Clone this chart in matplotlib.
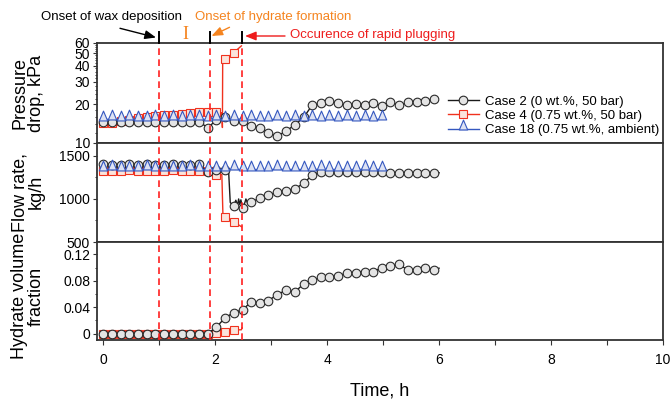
import matplotlib
matplotlib.use("Agg")
import matplotlib.pyplot as plt
from matplotlib.lines import Line2D
from matplotlib.path import Path
from matplotlib.patches import FancyArrowPatch
from matplotlib.ticker import FixedLocator, NullFormatter, FixedFormatter
import matplotlib.transforms as mtransforms

plt.rcParams['font.family'] = ['Liberation Sans', 'DejaVu Sans']

# ---------------- data ----------------
# sampling times of plotted markers (h)
time_c2 = [0.00, 0.16, 0.31, 0.47, 0.62, 0.78, 0.93, 1.09, 1.24, 1.40, 1.56, 1.71,
           1.87, 2.02, 2.18, 2.33, 2.49, 2.64, 2.80, 2.95, 3.11, 3.27, 3.42, 3.58,
           3.73, 3.89, 4.04, 4.20, 4.35, 4.51, 4.67, 4.82, 4.98, 5.13, 5.29, 5.44,
           5.60, 5.75, 5.91]
time_c4 = [0.00, 0.16, 0.31, 0.47, 0.62, 0.78, 0.93, 1.09, 1.24, 1.40, 1.56, 1.71,
           1.87, 2.02, 2.18, 2.33]
time_c18 = [0.00, 0.16, 0.31, 0.47, 0.62, 0.78, 0.93, 1.09, 1.24, 1.40, 1.56, 1.71,
            1.87, 2.02, 2.18, 2.33, 2.49, 2.64, 2.80, 2.95, 3.11, 3.27, 3.42, 3.58,
            3.73, 3.89, 4.04, 4.20, 4.35, 4.51, 4.67, 4.82, 4.98]

# pressure drop, kPa
dp_c2 = [14.6, 14.5, 14.6, 14.5, 14.5, 14.6, 14.5, 14.6, 14.6, 14.5, 14.6, 14.6,
         13.2, 15.0, 16.0, 14.7, 14.8, 13.6, 13.2, 12.0, 11.3, 12.4, 13.8, 15.8,
         19.6, 20.4, 21.2, 20.4, 19.6, 20.1, 19.8, 20.4, 19.5, 21.0, 19.6, 20.7,
         21.0, 21.3, 21.9]
dp_c4 = [14.3, 14.4, 14.8, 15.2, 15.6, 15.9, 16.1, 16.4, 16.6, 16.9, 17.1, 17.3,
         17.5, 17.3, 44.8, 50.4]
dp_c18 = [15.2, 15.3, 15.2, 15.3, 15.2, 15.2, 15.3, 15.2, 15.3, 15.2, 15.3, 15.3,
          15.2, 15.3, 15.2, 15.3, 15.2, 15.3, 15.2, 15.2, 15.3, 15.2, 15.3, 15.2,
          15.3, 15.2, 15.3, 15.2, 15.3, 15.2, 15.3, 15.2, 15.3]
# readings recorded between markers (line only)
dp_c4_line_t = [2.12, 2.13, 2.135, 2.47]
dp_c4_line_v = [17.2, 13.2, 42.0, 57.0]

# flow rate, kg/h
flow_c2 = [1402, 1398, 1400, 1403, 1399, 1401, 1400, 1398, 1402, 1400, 1399, 1401,
           1310, 1335, 1335, 920, 897, 967, 1006, 1045, 1080, 1098, 1118, 1180,
           1276, 1318, 1316, 1314, 1315, 1313, 1316, 1315, 1314, 1305, 1304, 1306,
           1305, 1304, 1305]
flow_c4 = [1330, 1329, 1330, 1331, 1330, 1329, 1330, 1330, 1331, 1330, 1329, 1330,
           1330, 1284, 793, 735]
flow_c18 = [1342, 1343, 1342, 1341, 1342, 1343, 1342, 1342, 1341, 1342, 1343, 1342,
            1342, 1341, 1342, 1343, 1342, 1342, 1341, 1342, 1343, 1342, 1342, 1341,
            1342, 1343, 1342, 1342, 1341, 1342, 1343, 1342, 1342]
flow_c2_line_t = [2.24, 2.27, 2.30, 2.37, 2.40, 2.42, 2.44, 2.46, 2.53, 2.55, 2.58, 2.60, 6.00]
flow_c2_line_v = [1332, 960, 935, 985, 925, 1000, 935, 990, 955, 1000, 950, 980, 1304]
flow_c4_line_t = [2.12, 2.14, 2.47]
flow_c4_line_v = [1282, 800, 678]

# hydrate volume fraction
hvf_c2 = [0.0, 0.0, 0.0, 0.0, 0.0, 0.0, 0.0, 0.0, 0.0, 0.0, 0.0, 0.0,
          0.0, 0.010, 0.024, 0.032, 0.036, 0.048, 0.047, 0.050, 0.059, 0.066, 0.063, 0.075,
          0.081, 0.085, 0.086, 0.087, 0.092, 0.092, 0.094, 0.094, 0.0997, 0.102, 0.105, 0.096,
          0.097, 0.099, 0.097]
hvf_c4 = [0.0, 0.0, 0.0, 0.0, 0.0, 0.0, 0.0, 0.0, 0.0, 0.0, 0.0, 0.0,
          0.0, 0.0006, 0.003, 0.0056]
hvf_c2_line_t = [6.00]
hvf_c2_line_v = [0.099]
hvf_c4_line_t = [2.47, 2.48]
hvf_c4_line_v = [0.006, 0.009]

# event times (h)
event_times = [1.0, 1.9, 2.48]

labels = ["Case 2 (0 wt.%, 50 bar)", "Case 4 (0.75 wt.%, 50 bar)",
          "Case 18 (0.75 wt.%, ambient)"]

# ---------------- styles ----------------
BLACK = '#1a1a1a'
RED = '#f0321e'
BLUE = '#3558c0'
ORANGE = '#f5841f'
FRAME = '#333333'

# triangle sitting on its data point
tri = Path([(-0.45, -0.05), (0.45, -0.05), (0.0, 1.0), (-0.45, -0.05)], closed=True)

style_c2 = dict(color=BLACK, marker='o', ms=6.2, mfc='#e4e4e4', mec='#2a2a2a', mew=0.8, lw=1.0)
style_c4 = dict(color=RED, marker='s', ms=5.6, mfc='#fbe4dc', mec=RED, mew=0.8, lw=1.0)
style_c18 = dict(color=BLUE, marker=tri, ms=13.5, mfc='#dde2f3', mec=BLUE, mew=0.8, lw=1.0)


def merged(t, v, et, ev):
    pts = sorted(zip(list(t) + list(et), list(v) + list(ev)))
    return [p[0] for p in pts], [p[1] for p in pts]


def draw(ax, t, v, style, z, et=(), ev=()):
    lt, lv = merged(t, v, et, ev)
    ax.plot(lt, lv, color=style['color'], lw=style['lw'], zorder=z)
    ax.plot(t, v, ls='none', marker=style['marker'], ms=style['ms'], mfc=style['mfc'],
            mec=style['mec'], mew=style['mew'], zorder=z + 0.1)


W, H = 671, 403
fig = plt.figure(figsize=(W / 100, H / 100), dpi=100)

left, right = 97 / W, 663 / W
rows = [(43, 143), (143, 242), (242, 340)]
axes = []
for top, bot in rows:
    ax = fig.add_axes([left, 1 - bot / H, right - left, (bot - top) / H])
    axes.append(ax)
ax1, ax2, ax3 = axes

for ax in axes:
    ax.set_xlim(-0.11, 10)
    for s in ax.spines.values():
        s.set_color(FRAME)
        s.set_linewidth(1.3)
    ax.tick_params(axis='y', direction='out', length=3, width=0.8, labelsize=10,
                   pad=2, colors=FRAME, labelcolor='black')
    ax.tick_params(axis='y', which='minor', direction='out', length=1.8, width=0.7, colors=FRAME)
    for t in event_times:
        ax.axvline(t, color='#ff2020', ls=(0, (4, 2.6)), lw=1.2, zorder=6)

for ax in (ax1, ax2):
    ax.tick_params(axis='x', which='both', bottom=False, labelbottom=False)

# pressure drop
draw(ax1, time_c4, dp_c4, style_c4, 2, dp_c4_line_t, dp_c4_line_v)
draw(ax1, time_c2, dp_c2, style_c2, 3)
draw(ax1, time_c18, dp_c18, style_c18, 4)
ax1.set_yscale('log')
ax1.set_ylim(10, 60)
ax1.yaxis.set_major_locator(FixedLocator([10, 20, 30, 40, 50, 60]))
ax1.yaxis.set_major_formatter(FixedFormatter(['10', '20', '30', '40', '50', '60']))
ax1.yaxis.set_minor_locator(FixedLocator([12, 14, 16, 18, 22, 24, 26, 28, 32, 34, 36, 38,
                                          42, 44, 46, 48, 52, 54, 56, 58]))
ax1.yaxis.set_minor_formatter(NullFormatter())

# flow rate
draw(ax2, time_c4, flow_c4, style_c4, 2, flow_c4_line_t, flow_c4_line_v)
draw(ax2, time_c2, flow_c2, style_c2, 3, flow_c2_line_t, flow_c2_line_v)
draw(ax2, time_c18, flow_c18, style_c18, 4)
ax2.set_ylim(500, 1650)
ax2.yaxis.set_major_locator(FixedLocator([500, 1000, 1500]))
ax2.yaxis.set_minor_locator(FixedLocator([750, 1250]))

# hydrate volume fraction
draw(ax3, time_c4, hvf_c4, style_c4, 2, hvf_c4_line_t, hvf_c4_line_v)
draw(ax3, time_c2, hvf_c2, style_c2, 3, hvf_c2_line_t, hvf_c2_line_v)
ax3.set_ylim(-0.0095, 0.1386)
ax3.yaxis.set_major_locator(FixedLocator([0, 0.04, 0.08, 0.12]))
ax3.yaxis.set_major_formatter(FixedFormatter(['0', '0.04', '0.08', '0.12']))
ax3.yaxis.set_minor_locator(FixedLocator([0.02, 0.06, 0.10]))
ax3.xaxis.set_major_locator(FixedLocator([0, 2, 4, 6, 8, 10]))
ax3.xaxis.set_minor_locator(FixedLocator([1, 3, 5, 7, 9]))
ax3.tick_params(axis='x', which='both', direction='out', length=3.5, width=0.8,
                labelsize=10, pad=6, colors=FRAME, labelcolor='black')

# axis titles
fig.text(28 / W, 1 - 93 / H, "Pressure\ndrop, kPa", rotation=90, ha='center', va='center',
         multialignment='center', fontsize=13, linespacing=0.95)
fig.text(28 / W, 1 - 192 / H, "Flow rate,\nkg/h", rotation=90, ha='center', va='center',
         multialignment='center', fontsize=13, linespacing=0.95)
fig.text(28 / W, 1 - 296 / H, "Hydrate volume\nfraction", rotation=90, ha='center', va='center',
         multialignment='center', fontsize=13, linespacing=0.95)
fig.text(380 / W, 1 - 391 / H, "Time, h", ha='center', va='center', fontsize=13)

# event markers above the top frame
trans = mtransforms.blended_transform_factory(ax1.transData, ax1.transAxes)
for t in event_times:
    ax1.add_line(Line2D([t, t], [1.0, 1.107], transform=trans, color='black', lw=1.4,
                        clip_on=False, zorder=7))


def fx(px):
    return px / W


def fy(py):
    return 1 - py / H


fig.text(fx(41), fy(17.3), "Onset of wax deposition", fontsize=9.5, ha='left', va='center')
fig.text(fx(195), fy(17.3), "Onset of hydrate formation", fontsize=9.5, ha='left',
         va='center', color=ORANGE)
fig.text(fx(289.5), fy(35), "Occurence of rapid plugging", fontsize=9.5, ha='left',
         va='center', color='#ee1c1c')
fig.text(fx(185), fy(34.5), "I", fontsize=13, ha='center', va='center', color=ORANGE,
         family=['Liberation Serif', 'DejaVu Serif'])

arrow_kw = dict(arrowstyle='-|>,head_length=0.55,head_width=0.22', lw=1.0, shrinkA=0, shrinkB=0)
fig.add_artist(FancyArrowPatch((fx(120), fy(28.3)), (fx(156), fy(37.5)),
                               transform=fig.transFigure, color='black',
                               mutation_scale=12, **arrow_kw))
fig.add_artist(FancyArrowPatch((fx(229.5), fy(27.3)), (fx(211.5), fy(36)),
                               transform=fig.transFigure, color=ORANGE,
                               mutation_scale=12, **arrow_kw))
fig.add_artist(FancyArrowPatch((fx(285), fy(36)), (fx(245), fy(36)),
                               transform=fig.transFigure, color='#ee1c1c',
                               mutation_scale=12, **arrow_kw))

# legend
handles = [Line2D([], [], **style_c2), Line2D([], [], **style_c4), Line2D([], [], **style_c18)]
fig.legend(handles, labels, loc='center left', bbox_to_anchor=(fx(443), fy(116)),
           bbox_transform=fig.transFigure, frameon=False, fontsize=9.5,
           handlelength=2.3, handletextpad=0.5, labelspacing=0.15, borderaxespad=0,
           borderpad=0.4)

fig.savefig("out.png", dpi=100)
